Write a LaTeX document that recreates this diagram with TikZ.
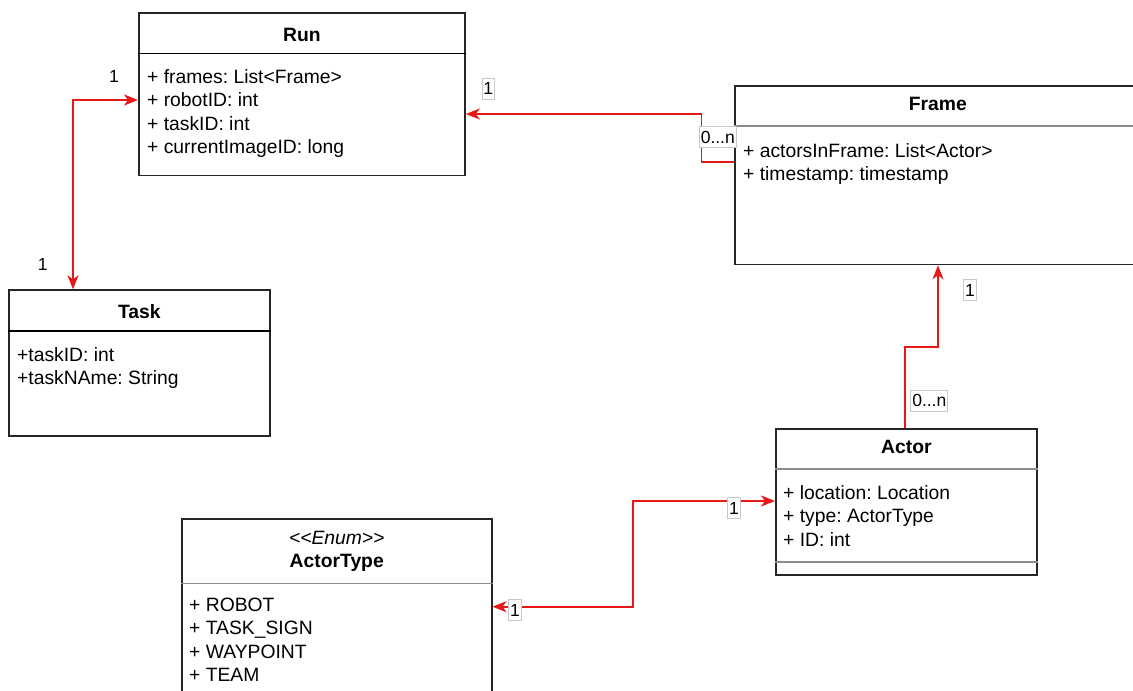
\documentclass[tikz,border=0pt]{standalone}
\usepackage{fontspec}
\setmainfont{Liberation Sans}
\usetikzlibrary{arrows.meta,positioning,calc}

\definecolor{linkred}{RGB}{230,25,25}
\definecolor{rulegray}{RGB}{140,140,140}
\definecolor{labelgray}{RGB}{200,200,200}

\begin{document}
\frenchspacing
\begin{tikzpicture}[
    x=1pt, y=-1pt,
    font=\fontsize{19.3}{23.5}\selectfont,
    cls/.style={draw=black!85, line width=1.8pt, fill=white, anchor=north west, inner sep=0pt},
    rule/.style={line width=1.6pt},
    title/.style={anchor=base, inner sep=0pt, font=\fontsize{19.3}{23.5}\selectfont\bfseries},
    attrs/.style={anchor=north west, align=left, inner sep=0pt},
    link/.style={draw=linkred, line width=1.8pt},
    head/.style={-{Stealth[length=14pt, width=11pt, inset=4pt]}},
    both/.style={{Stealth[length=14pt, width=11pt, inset=4pt]}-{Stealth[length=14pt, width=11pt, inset=4pt]}},
    mult/.style={draw=labelgray, fill=white, line width=0.7pt, inner xsep=1.5pt, inner ysep=4.5pt, font=\fontsize{17.5}{20}\selectfont},
    note/.style={inner sep=0pt, font=\fontsize{17.5}{20}\selectfont}
]
\useasboundingbox (0,0) rectangle (1133,691);

% classes
\node[cls, minimum width=326pt, minimum height=162.5pt] (run) at (138,12) {};
\draw[rule] ($(run.north west)+(0,41.5)$) -- ($(run.north east)+(0,41.5)$);
\node[title] (run-name) at ($(run.north)+(0,29.8)$) {Run};
\node[attrs] (run-attr) at ($(run.north west)+(9,57.2)$) {+ frames: List<Frame>\\+ robotID: int\\+ taskID: int\\+ currentImageID: long};

\node[cls, minimum width=261pt, minimum height=146pt] (task) at (8,289.3) {};
\draw[rule] ($(task.north west)+(0,41.7)$) -- ($(task.north east)+(0,41.7)$);
\node[title] (task-name) at ($(task.north)+(0,29.2)$) {Task};
\node[attrs] (task-attr) at ($(task.north west)+(9,58)$) {+taskID: int\\+taskNAme: String};

\node[cls, minimum width=406pt, minimum height=178.5pt] (frame) at (734,85) {};
\draw[rule, draw=rulegray] ($(frame.north west)+(0,41)$) -- ($(frame.north east)+(0,41)$);
\node[title] (frame-name) at ($(frame.north)+(0,25)$) {Frame};
\node[attrs] (frame-attr) at ($(frame.north west)+(9,58)$) {+ actorsInFrame: List<Actor>\\+ timestamp: timestamp};

\node[cls, minimum width=261pt, minimum height=146.6pt] (actor) at (775,427.7) {};
\draw[rule, draw=rulegray] ($(actor.north west)+(0,41.3)$) -- ($(actor.north east)+(0,41.3)$);
\draw[rule, draw=rulegray] ($(actor.north west)+(0,134)$) -- ($(actor.north east)+(0,134)$);
\node[title] (actor-name) at ($(actor.north)+(0,25.8)$) {Actor};
\node[attrs] (actor-attr) at ($(actor.north west)+(8,57.5)$) {+ location: Location\\+ type: ActorType\\+ ID: int};

\node[cls, minimum width=309.7pt, minimum height=200pt] (atype) at (181,517.7) {};
\draw[rule, draw=rulegray] ($(atype.north west)+(0,65.6)$) -- ($(atype.north east)+(0,65.6)$);
\node[anchor=base, inner sep=0pt] (atype-stereo) at ($(atype.north)+(0,26.8)$) {\textit{<\kern0pt<Enum>\kern0pt>}};
\node[title] (atype-name) at ($(atype.north)+(0,50)$) {ActorType};
\node[attrs] (atype-attr) at ($(atype.north west)+(8,79.8)$) {+ ROBOT\\+ TASK\_SIGN\\+ WAYPOINT\\+ TEAM};

% associations
\coordinate (run-w) at ($(run.north west)+(0,88)$);
\coordinate (task-n) at ($(task.north west)+(65,0)$);
\draw[link, both] (run-w) -| (task-n);

\coordinate (frame-w) at ($(frame.north west)+(0,77)$);
\coordinate (run-e) at ($(run.north east)+(0,102)$);
\draw[link, head] (frame-w) -- ++(-32.5,0) |- (run-e);

\coordinate (actor-n) at ($(actor.north west)+(130,0)$);
\coordinate (frame-s) at ($(frame.south west)+(204,0)$);
\draw[link, head] (actor-n) -- ++(0,-81) -| (frame-s);

\coordinate (actor-w) at ($(actor.north west)+(0,73.3)$);
\coordinate (atype-e) at ($(atype.north east)+(0,89)$);
\draw[link, both] (actor-w) -- ++(-142,0) |- (atype-e);

% multiplicities
\node[note] (m-run) at (114,76.7) {1};
\node[note] (m-task) at (42.7,264) {1};
\node[mult] (m-run-frame) at (488.3,88.8) {1};
\node[mult] (m-frame-run) at (717.8,137) {0...n};
\node[mult] (m-frame-actor) at (970,290) {1};
\node[mult] (m-actor-frame) at (929.3,400.7) {0...n};
\node[mult] (m-actor-type) at (734,508.3) {1};
\node[mult] (m-type-actor) at (515,610) {1};
\end{tikzpicture}
\end{document}
